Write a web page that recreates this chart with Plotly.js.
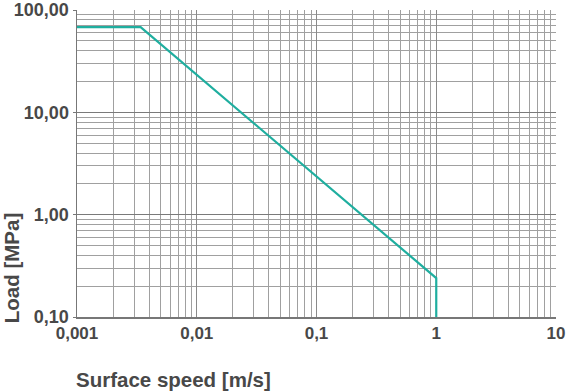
<!DOCTYPE html>
<html>
<head>
<meta charset="utf-8">
<script src="https://cdn.plot.ly/plotly-3.0.1.min.js"></script>
<style>html,body{margin:0;padding:0;background:#fff}#chart{width:570px;height:391px}</style>
</head>
<body>
<div id="chart"></div>
<script>
const speed = [0.001, 0.0034, 1, 1];
const load = [68, 68, 0.24, 0.1];
const xTickVals = [0.001, 0.01, 0.1, 1, 10];
const xTickText = ["0,001", "0,01", "0,1", "1", "10"];
const yTickVals = [0.1, 1, 10, 100];
const yTickText = ["0,10", "1,00", "10,00", "100,00"];

const textColor = "#484848";
const fam = "Liberation Sans, Arial, sans-serif";
const trace = {
  x: speed, y: load, type: "scatter", mode: "lines",
  line: {color: "#1fae9f", width: 2.2},
  cliponaxis: false, hoverinfo: "skip"
};
const layout = {
  width: 570, height: 391,
  margin: {l: 77, r: 14, t: 10, b: 74},
  paper_bgcolor: "#fff", plot_bgcolor: "#fff",
  showlegend: false,
  xaxis: {
    type: "log", range: [-3, 1],
    tickmode: "array", tickvals: xTickVals, ticktext: xTickText,
    showgrid: true, gridcolor: "#8a8a8a", gridwidth: 1,
    minor: {dtick: "D1", showgrid: true, gridcolor: "#a0a0a0", gridwidth: 1},
    showline: true, linecolor: "#777", linewidth: 1.5, mirror: false,
    ticks: "", zeroline: false,
    tickfont: {family: fam, size: 17, color: textColor, weight: "bold"}
  },
  yaxis: {
    type: "log", range: [-1, 2],
    tickmode: "array", tickvals: yTickVals, ticktext: yTickText,
    showgrid: true, gridcolor: "#7a7a7a", gridwidth: 1,
    minor: {dtick: "D1", showgrid: true, gridcolor: "#a0a0a0", gridwidth: 1},
    showline: true, linecolor: "#777", linewidth: 1.5,
    ticks: "outside", ticklen: 3, tickcolor: "#777",
    zeroline: false,
    tickfont: {family: fam, size: 18, color: textColor, weight: "bold"}
  },
  annotations: [
    {text: "Surface speed [m/s]", xref: "paper", yref: "paper", x: 0, y: -0.205,
     xanchor: "left", yanchor: "middle", xshift: -3, showarrow: false,
     font: {family: fam, size: 20.5, color: textColor, weight: "bold"}},
    {text: "Load [MPa]", xref: "paper", yref: "paper", x: -0.135, y: 0.16,
     xanchor: "center", yanchor: "middle", textangle: -90, showarrow: false,
     font: {family: fam, size: 20.5, color: textColor, weight: "bold"}}
  ]
};
Plotly.newPlot("chart", [trace], layout, {staticPlot: true, displayModeBar: false});
</script>
</body>
</html>
